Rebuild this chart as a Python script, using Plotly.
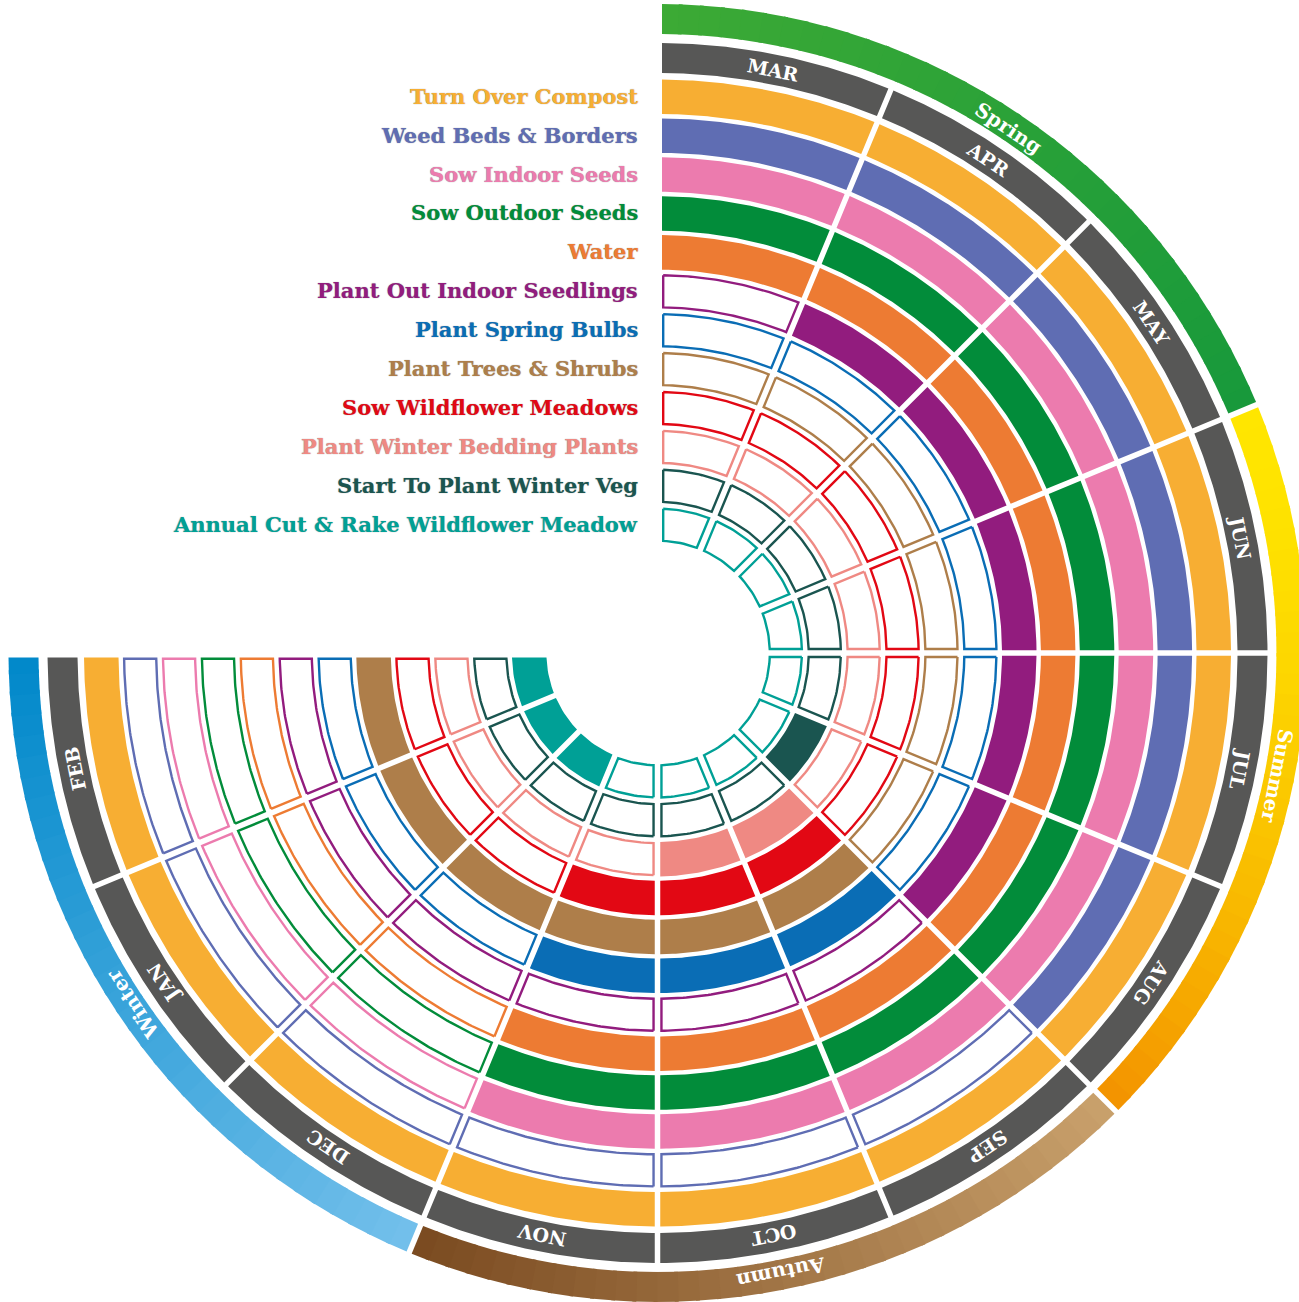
import numpy as np
import plotly.graph_objects as go

# ---------------- data ----------------
months = ["MAR", "APR", "MAY", "JUN", "JUL", "AUG", "SEP", "OCT", "NOV", "DEC", "JAN", "FEB"]
seasons = ["Spring", "Summer", "Autumn", "Winter"]
season_months = [["MAR", "APR", "MAY"], ["JUN", "JUL", "AUG"], ["SEP", "OCT", "NOV"], ["DEC", "JAN", "FEB"]]
season_colors = [("#3DAA35", "#17993B"), ("#FFE600", "#F39200"), ("#C9A16C", "#7A4A20"), ("#74C0EB", "#0088CA")]

tasks = [
    "Turn Over Compost",
    "Weed Beds & Borders",
    "Sow Indoor Seeds",
    "Sow Outdoor Seeds",
    "Water",
    "Plant Out Indoor Seedlings",
    "Plant Spring Bulbs",
    "Plant Trees & Shrubs",
    "Sow Wildflower Meadows",
    "Plant Winter Bedding Plants",
    "Start To Plant Winter Veg",
    "Annual Cut & Rake Wildflower Meadow",
]
task_colors = [
    "#F7AE33", "#5F6DB3", "#EC7BAE", "#028C3A", "#ED7B33", "#921C7E",
    "#0A6DB5", "#AE7E4A", "#E20814", "#EF8983", "#1A5550", "#00A096",
]
task_months = [
    ["MAR", "APR", "MAY", "JUN", "JUL", "AUG", "SEP", "OCT", "NOV", "DEC", "JAN", "FEB"],
    ["MAR", "APR", "MAY", "JUN", "JUL", "AUG"],
    ["MAR", "APR", "MAY", "JUN", "JUL", "AUG", "SEP", "OCT", "NOV"],
    ["MAR", "APR", "MAY", "JUN", "JUL", "AUG", "SEP", "OCT", "NOV"],
    ["MAR", "APR", "MAY", "JUN", "JUL", "AUG", "SEP", "OCT", "NOV"],
    ["APR", "MAY", "JUN", "JUL", "AUG"],
    ["SEP", "OCT", "NOV"],
    ["SEP", "OCT", "NOV", "DEC", "JAN", "FEB"],
    ["SEP", "OCT", "NOV"],
    ["SEP", "OCT"],
    ["AUG"],
    ["DEC", "JAN", "FEB"],
]
month_ring_color = "#575756"

# ---------------- geometry / style ----------------
W, H = 1299, 1302
CX, CY = 657.5, 653.0          # pixel position of centre
SPAN = 270.0
STEP = SPAN / len(months)
HALF_GAP = 2.75
END_GAP = 4.5
R_SEASON = (619.0, 649.0)
R_MONTH = (580.0, 610.0)
R_TASK_OUT = 573.5
PITCH = 38.9
RING_W = 34.5
OUT_LW = 2.4
FONT = "DejaVu Serif"


def offs(a):
    return END_GAP if (abs(a) < 1e-6 or abs(a - SPAN) < 1e-6) else HALF_GAP


def sector(a0, a1, r0, r1, d0, d1, inset=0.0):
    r0 += inset
    r1 -= inset
    d0 += inset
    d1 += inset
    A0, A1 = np.radians(a0), np.radians(a1)
    o0, o1 = A0 + np.arcsin(d0 / r1), A1 - np.arcsin(d1 / r1)
    i0, i1 = A0 + np.arcsin(d0 / r0), A1 - np.arcsin(d1 / r0)
    no = max(6, int((o1 - o0) * r1 / 3))
    ni = max(6, int((i1 - i0) * r0 / 3))
    to = np.linspace(o0, o1, no)
    ti = np.linspace(i1, i0, ni)
    xs = list(r1 * np.sin(to)) + list(r0 * np.sin(ti))
    ys = list(r1 * np.cos(to)) + list(r0 * np.cos(ti))
    xs.append(xs[0])
    ys.append(ys[0])
    return xs, ys


def mix(c1, c2, t):
    a = [int(c1[i:i + 2], 16) for i in (1, 3, 5)]
    b = [int(c2[i:i + 2], 16) for i in (1, 3, 5)]
    return "rgb(%d,%d,%d)" % tuple(round(a[k] + (b[k] - a[k]) * t) for k in range(3))


fig = go.Figure()

# season ring with gradient
NSUB = 36
for s, (sname, smonths) in enumerate(zip(seasons, season_months)):
    a_start = months.index(smonths[0]) * STEP
    a_end = (months.index(smonths[-1]) + 1) * STEP
    c1, c2 = season_colors[s]
    sub = (a_end - a_start) / NSUB
    for k in range(NSUB):
        b0 = a_start + k * sub
        b1 = min(a_start + (k + 1) * sub + 0.35, a_end)
        d0 = offs(b0) if k == 0 else 0.0
        d1 = offs(a_end) if k == NSUB - 1 else 0.0
        if k == NSUB - 1:
            b1 = a_end
        t = (k + 0.5) / NSUB
        if s == 1:
            t = t ** 1.6
        xs, ys = sector(b0, b1, R_SEASON[0], R_SEASON[1], d0, d1)
        fig.add_trace(go.Scatter(x=xs, y=ys, mode="lines", fill="toself",
                                 fillcolor=mix(c1, c2, t), line=dict(width=0),
                                 hoverinfo="skip", showlegend=False))

# month ring
mx, my = [], []
for k, m in enumerate(months):
    a0, a1 = k * STEP, (k + 1) * STEP
    xs, ys = sector(a0, a1, R_MONTH[0], R_MONTH[1], offs(a0), offs(a1))
    mx += xs + [None]
    my += ys + [None]
fig.add_trace(go.Scatter(x=mx, y=my, mode="lines", fill="toself", fillcolor=month_ring_color,
                         line=dict(width=0), hoverinfo="skip", showlegend=False))

# task rings
for i, (task, col, act) in enumerate(zip(tasks, task_colors, task_months)):
    r1 = R_TASK_OUT - PITCH * i
    r0 = r1 - RING_W
    fx, fy, ox, oy = [], [], [], []
    for k, m in enumerate(months):
        a0, a1 = k * STEP, (k + 1) * STEP
        if m in act:
            xs, ys = sector(a0, a1, r0, r1, offs(a0), offs(a1))
            fx += xs + [None]
            fy += ys + [None]
        else:
            xs, ys = sector(a0, a1, r0, r1, offs(a0), offs(a1), inset=OUT_LW / 2)
            ox += xs + [None]
            oy += ys + [None]
    if fx:
        fig.add_trace(go.Scatter(x=fx, y=fy, mode="lines", fill="toself", fillcolor=col,
                                 line=dict(width=0), hoverinfo="skip", showlegend=False))
    if ox:
        fig.add_trace(go.Scatter(x=ox, y=oy, mode="lines", fill="toself", fillcolor="white",
                                 line=dict(width=OUT_LW, color=col), hoverinfo="skip",
                                 showlegend=False))

annotations = []
# task labels
for i, (task, col) in enumerate(zip(tasks, task_colors)):
    rc = R_TASK_OUT - PITCH * i - RING_W / 2
    annotations.append(dict(x=-18, y=rc + 0.5, xref="x", yref="y", text=task, showarrow=False,
                            xanchor="right", yanchor="middle",
                            font=dict(family=FONT, size=21, color=col, weight="bold",
                                      shadow="0px 0px 1px rgba(40,40,40,0.55)")))


def tangent_label(text, ang, r, size):
    th = np.radians(ang)
    ta = ang if ang <= 180 else ang - 360
    return dict(x=r * np.sin(th), y=r * np.cos(th), xref="x", yref="y", text=text,
                showarrow=False, xanchor="center", yanchor="middle", textangle=ta,
                font=dict(family=FONT, size=size, color="white", weight="bold"))


for k, m in enumerate(months):
    annotations.append(tangent_label(m, (k + 0.5) * STEP, (R_MONTH[0] + R_MONTH[1]) / 2 - 1, 19))

for s, (sname, smonths) in enumerate(zip(seasons, season_months)):
    a_start = months.index(smonths[0]) * STEP
    a_end = (months.index(smonths[-1]) + 1) * STEP
    annotations.append(tangent_label(sname, (a_start + a_end) / 2,
                                     (R_SEASON[0] + R_SEASON[1]) / 2 - 2.5, 20))

fig.update_layout(
    width=W, height=H,
    margin=dict(l=0, r=0, t=0, b=0),
    paper_bgcolor="white", plot_bgcolor="white",
    xaxis=dict(range=[-CX, W - CX], visible=False, fixedrange=True),
    yaxis=dict(range=[CY - H, CY], visible=False, fixedrange=True),
    annotations=annotations,
    showlegend=False,
)

fig.write_html("out.html", config={"displayModeBar": False},
               post_script="document.body.style.margin='0px';")
